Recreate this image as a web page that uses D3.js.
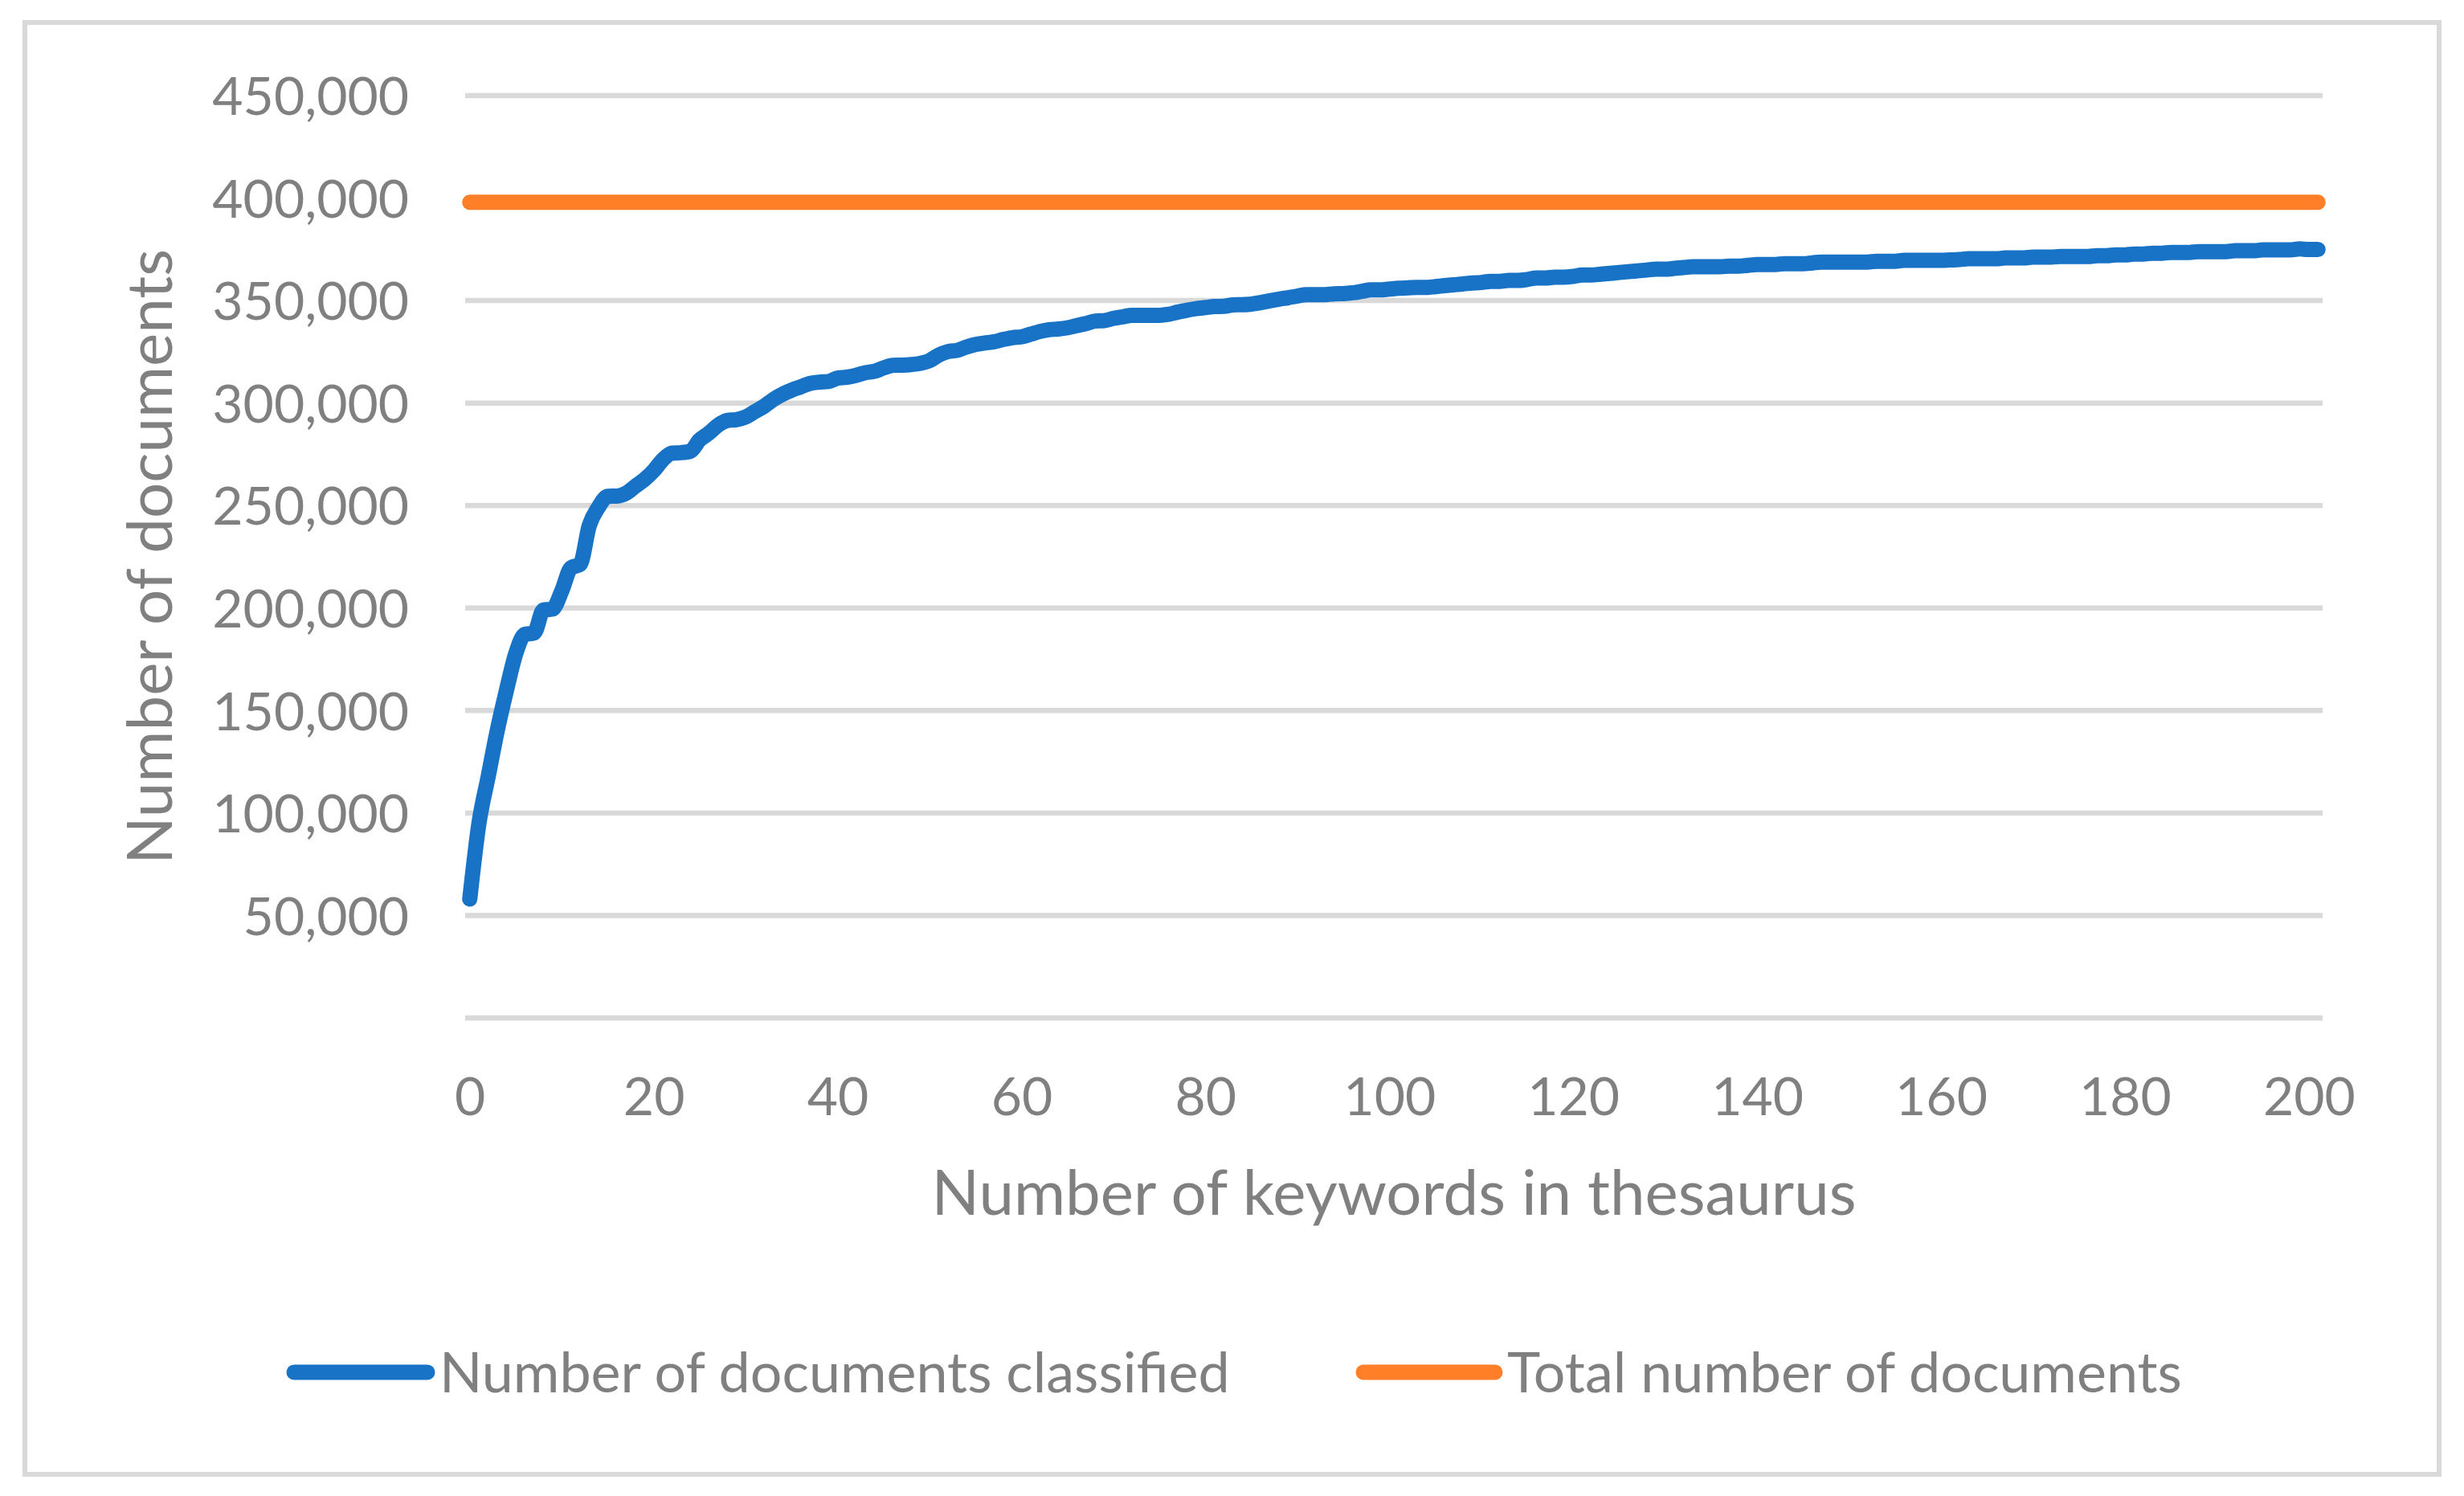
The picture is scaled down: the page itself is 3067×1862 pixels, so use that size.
<!DOCTYPE html>
<html>
<head>
<meta charset="utf-8">
<script src="https://cdn.jsdelivr.net/npm/d3@7"></script>
<style>
  html, body { margin: 0; padding: 0; background: #ffffff; }
  svg { display: block; }
  text { font-family: Lato, "Open Sans", sans-serif; fill: #808080; }
</style>
</head>
<body>
<svg id="chart" width="3067" height="1862"></svg>
<script>
// ---- data ----
const seriesNames = ["Number of documents classified", "Total number of documents"];
const xTickLabels = [0, 20, 40, 60, 80, 100, 120, 140, 160, 180, 200];
const yTickLabels = [50000, 100000, 150000, 200000, 250000, 300000, 350000, 400000, 450000];
const yGridValues = [0, 50000, 100000, 150000, 200000, 250000, 300000, 350000, 400000, 450000];
const totalDocuments = 398000;
const classified = [
  58000, 95000, 117700, 140400, 160000, 177800, 187200, 187800, 199000, 199500,
  208300, 219600, 221300, 240300, 249200, 254500, 254600, 256000, 259400, 262700,
  267000, 272400, 275600, 275800, 276500, 282000, 285300, 289200, 291500, 291900,
  293200, 295800, 298400, 301700, 304300, 306300, 307900, 309600, 310200, 310500,
  312200, 312600, 313500, 314800, 315500, 317100, 318400, 318500, 318800, 319400,
  320700, 323400, 325100, 325700, 327300, 328600, 329300, 329900, 331000, 331900,
  332300, 333600, 334900, 335800, 336100, 336700, 337800, 338800, 340000, 340200,
  341300, 342100, 342800, 342800, 342800, 342800, 343300, 344400, 345300, 346100,
  346600, 347100, 347200, 347900, 348000, 348300, 349000, 349900, 350700, 351400,
  352200, 352900, 352900, 352900, 353300, 353400, 353800, 354500, 355200, 355200,
  355600, 356000, 356200, 356400, 356400, 356800, 357300, 357700, 358100, 358600,
  358800, 359400, 359400, 359800, 359800, 360300, 361000, 361000, 361400, 361400,
  361800, 362500, 362500, 362900, 363300, 363700, 364100, 364500, 364900, 365300,
  365300, 365700, 366100, 366500, 366500, 366500, 366500, 366800, 366800, 367200,
  367600, 367600, 367600, 368000, 368000, 368000, 368400, 368800, 368800, 368800,
  368800, 368800, 368800, 369200, 369200, 369200, 369600, 369600, 369600, 369600,
  369600, 369800, 370000, 370400, 370400, 370400, 370400, 370800, 370800, 370800,
  371200, 371200, 371200, 371500, 371500, 371500, 371500, 371900, 371900, 372300,
  372300, 372700, 372700, 373100, 373100, 373500, 373500, 373500, 373900, 373900,
  373900, 373900, 374300, 374300, 374300, 374700, 374700, 374700, 374700, 375200,
  374900, 374900
];
const keywordCounts = d3.range(classified.length); // category index 0..201

// ---- layout ----
const W = 3067, H = 1862;
const plot = { left: 579, right: 2891, top: 119, bottom: 1267 };
const colors = { classified: "#1873c7", total: "#fe7f28", grid: "#d9d9d9", text: "#808080" };

const svg = d3.select("#chart");
svg.append("rect").attr("width", W).attr("height", H).attr("fill", "#fff");
svg.append("rect").attr("x", 31).attr("y", 28).attr("width", 3005).attr("height", 1807)
  .attr("fill", "none").attr("stroke", colors.grid).attr("stroke-width", 6);

const x = d3.scaleLinear().domain([-0.5, keywordCounts.length - 0.5]).range([plot.left, plot.right]);
const y = d3.scaleLinear().domain([0, 450000]).range([plot.bottom, plot.top]);

// gridlines
svg.append("g").selectAll("line").data(yGridValues).join("line")
  .attr("x1", plot.left).attr("x2", plot.right)
  .attr("y1", d => y(d)).attr("y2", d => y(d))
  .attr("stroke", colors.grid).attr("stroke-width", 6.5);

// y axis labels
const fmt = d3.format(",");
const yAxis = d3.axisLeft(y).tickValues(yTickLabels).tickFormat(fmt).tickSize(0).tickPadding(0);
const gy = svg.append("g").attr("transform", `translate(509,0)`).call(yAxis);
gy.select(".domain").remove();
gy.selectAll("text").attr("font-size", 66).attr("fill", colors.text)
  .attr("font-family", "Lato, 'Open Sans', sans-serif").attr("dy", "0.36em");

// x axis labels
const xAxis = d3.axisBottom(x).tickValues(xTickLabels).tickFormat(d3.format("d")).tickSize(0).tickPadding(0);
const gx = svg.append("g").attr("transform", `translate(0,1340)`).call(xAxis);
gx.select(".domain").remove();
gx.selectAll("text").attr("font-size", 66).attr("fill", colors.text)
  .attr("font-family", "Lato, 'Open Sans', sans-serif").attr("dy", "0.72em");

// axis titles
svg.append("text").attr("x", (plot.left + plot.right) / 2).attr("y", 1512)
  .attr("text-anchor", "middle").attr("font-size", 78).text("Number of keywords in thesaurus");
svg.append("text").attr("transform", `translate(214,${(plot.top + plot.bottom) / 2}) rotate(-90)`)
  .attr("text-anchor", "middle").attr("font-size", 78).text("Number of documents");

// series lines
const line = d3.line().x((d, i) => x(keywordCounts[i])).y(d => y(d)).curve(d3.curveMonotoneX);
svg.append("path").datum(keywordCounts.map(() => totalDocuments))
  .attr("d", line).attr("fill", "none").attr("stroke", colors.total)
  .attr("stroke-width", 19).attr("stroke-linecap", "round").attr("stroke-linejoin", "round");
svg.append("path").datum(classified)
  .attr("d", line).attr("fill", "none").attr("stroke", colors.classified)
  .attr("stroke-width", 19).attr("stroke-linecap", "round").attr("stroke-linejoin", "round");

// legend
const legendY = 1708;
const legendItems = [
  { name: seriesNames[0], color: colors.classified, x1: 366, x2: 532, tx: 547 },
  { name: seriesNames[1], color: colors.total, x1: 1697, x2: 1861, tx: 1876 }
];
const lg = svg.append("g").selectAll("g").data(legendItems).join("g");
lg.append("line").attr("x1", d => d.x1).attr("x2", d => d.x2).attr("y1", legendY).attr("y2", legendY)
  .attr("stroke", d => d.color).attr("stroke-width", 19).attr("stroke-linecap", "round");
lg.append("text").attr("x", d => d.tx).attr("y", legendY).attr("dy", "0.36em")
  .attr("font-size", 70).text(d => d.name);
</script>
</body>
</html>
